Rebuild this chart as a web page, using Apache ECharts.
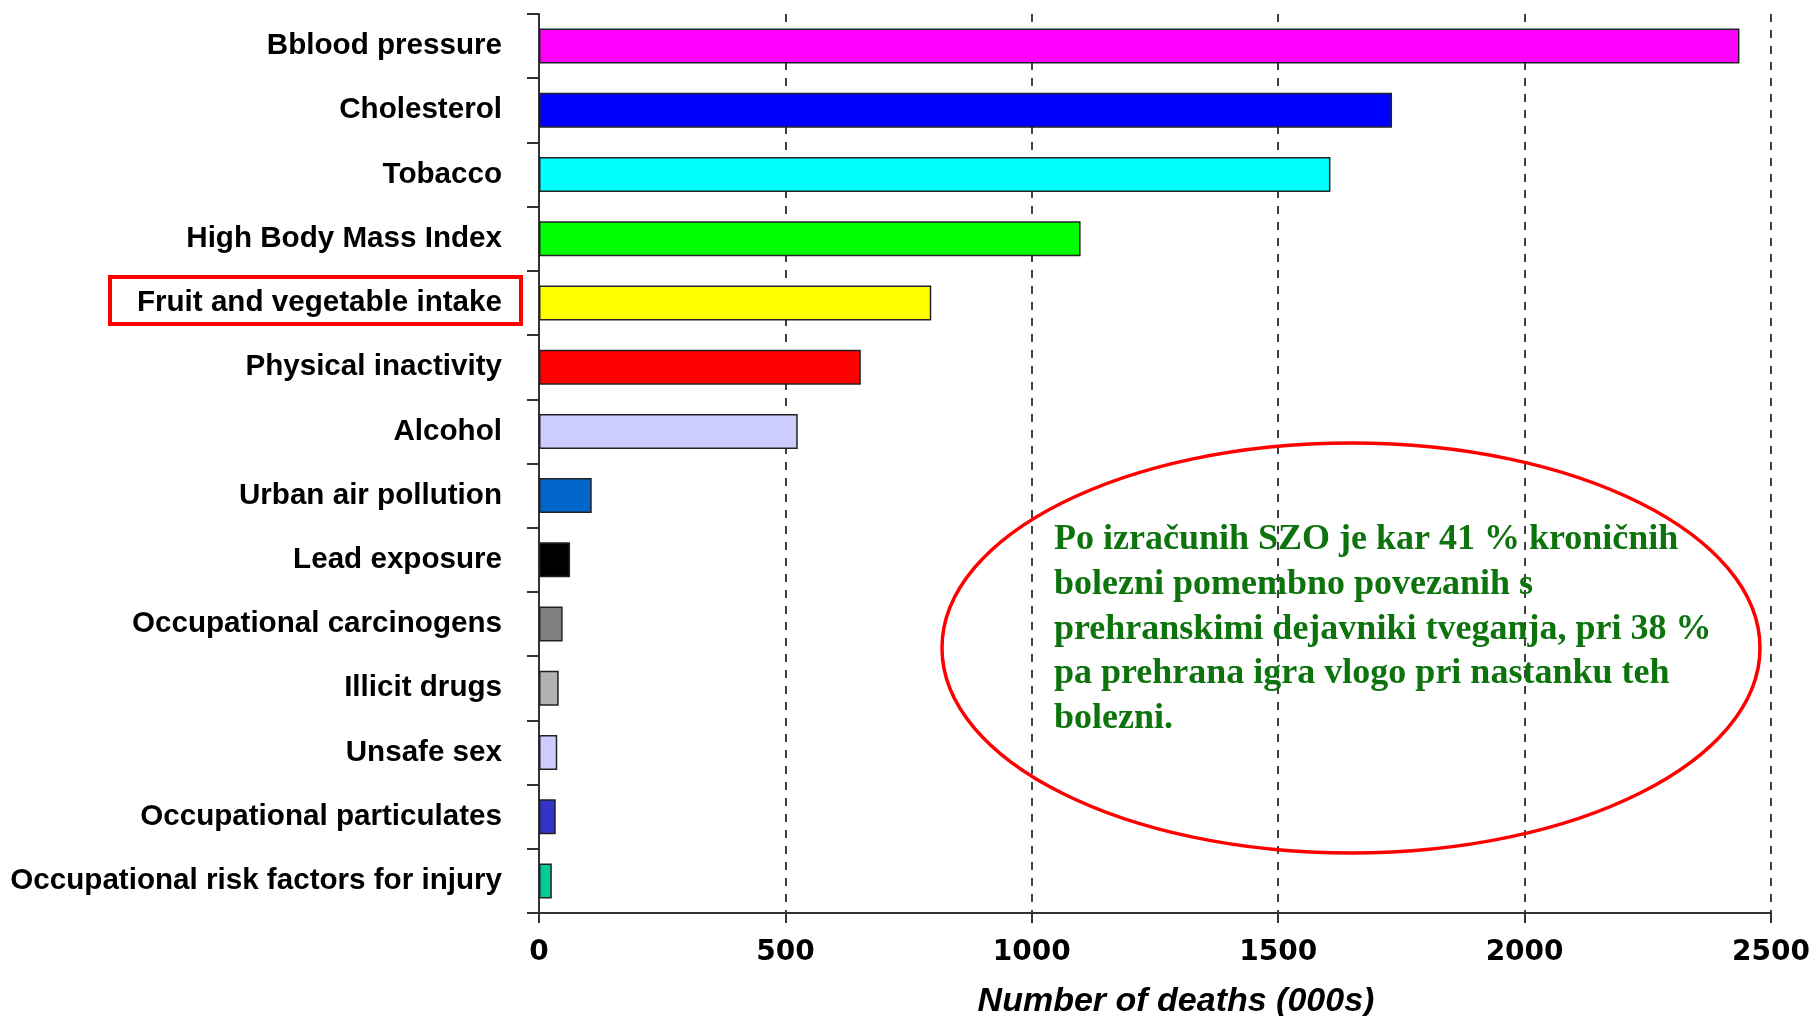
<!DOCTYPE html>
<html>
<head>
<meta charset="utf-8">
<script src="https://cdn.jsdelivr.net/npm/echarts@6/dist/echarts.min.js"></script>
<style>
  html, body { margin: 0; padding: 0; background: #fff; }
  #chart { width: 1816px; height: 1016px; }
</style>
</head>
<body>
<div id="chart"></div>
<script>
const categories = [
  'Bblood pressure', 'Cholesterol', 'Tobacco', 'High Body Mass Index',
  'Fruit and vegetable intake', 'Physical inactivity', 'Alcohol', 'Urban air pollution',
  'Lead exposure', 'Occupational carcinogens', 'Illicit drugs', 'Unsafe sex',
  'Occupational particulates', 'Occupational risk factors for injury',
]
const deaths = [2436, 1731, 1606, 1099, 796, 653, 525, 107, 63, 48, 40, 37, 34, 26]
const barColors = [
  '#ff00ff', '#0000ff', '#00ffff', '#00ff00', '#ffff00', '#ff0000', '#ccccff', '#0066cc',
  '#000000', '#808080', '#b2b2b2', '#ccccff', '#3333cc', '#00cc99',
]
const xTicks = [0, 500, 1000, 1500, 2000, 2500]
const noteLines = [
  'Po izračunih SZO je kar 41 % kroničnih',
  'bolezni pomembno povezanih s',
  'prehranskimi dejavniki tveganja, pri 38 %',
  'pa prehrana igra vlogo pri nastanku teh',
  'bolezni.',
]

const SANS = 'Liberation Sans, Arial, sans-serif'
const chart = echarts.init(document.getElementById('chart'), null, { renderer: 'canvas' })

chart.setOption({
  backgroundColor: '#fff',
  animation: false,
  grid: { left: 539, right: 45, top: 14, bottom: 103, containLabel: false, outerBoundsMode: 'none' },
  xAxis: {
    type: 'value', min: xTicks[0], max: xTicks[xTicks.length - 1], interval: 500,
    name: 'Number of deaths (000s)', nameLocation: 'middle', nameGap: 72,
    nameTextStyle: { fontFamily: SANS, fontSize: 34, fontWeight: 'bold', fontStyle: 'italic', color: '#000', padding: [0, 0, 0, 42] },
    axisLine: { show: true, lineStyle: { color: '#333', width: 2 } },
    axisTick: { show: true, length: 10, lineStyle: { color: '#333', width: 2 } },
    axisLabel: { margin: 26, fontFamily: 'DejaVu Sans, sans-serif', fontSize: 28, fontWeight: 'bold', color: '#000',
      formatter: (v) => String(v) },
    splitLine: { show: true, lineStyle: { color: '#000', width: 1.5, type: [8, 8] } },
  },
  yAxis: {
    type: 'category', inverse: true, data: categories,
    axisLine: { show: true, lineStyle: { color: '#333', width: 2 } },
    axisTick: { show: true, length: 12, lineStyle: { color: '#333', width: 2 } },
    axisLabel: { margin: 37, fontFamily: SANS, fontSize: 29.6, fontWeight: 'bold', color: '#000' },
    splitLine: { show: false },
  },
  series: [{
    type: 'bar', barWidth: 35,
    data: deaths.map((v, i) => ({ value: v, itemStyle: { color: barColors[i] } })),
    itemStyle: { borderColor: '#222', borderWidth: 1.5 },
  }],
  graphic: [
    { type: 'rect', z: 100, shape: { x: 110, y: 277, width: 411, height: 47 },
      style: { fill: 'none', stroke: '#ff0000', lineWidth: 4 } },
    { type: 'ellipse', z: 100, shape: { cx: 1351, cy: 648, rx: 409, ry: 205 },
      style: { fill: 'none', stroke: '#ff0000', lineWidth: 3.5 } },
    ...noteLines.map((t, i) => ({
      type: 'text', z: 101, x: 1054, y: 558 + i * 44.7,
      style: { text: t, fill: '#0d730d', font: 'bold 36px "Liberation Serif", "Times New Roman", serif',
        textAlign: 'left', textVerticalAlign: 'bottom' },
    })),
  ],
})
</script>
</body>
</html>
